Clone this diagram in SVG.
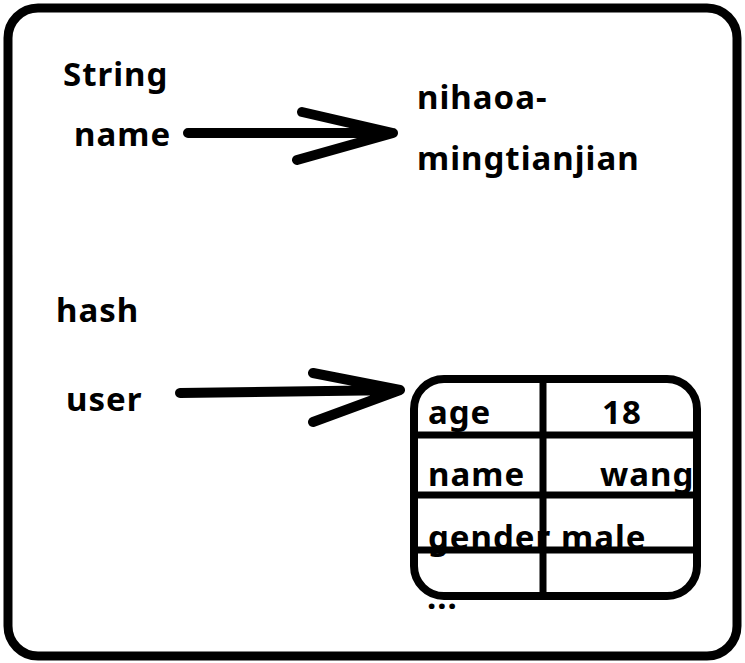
<svg xmlns="http://www.w3.org/2000/svg" width="745" height="663" viewBox="0 0 745 663">
<style>
.t{font-family:"Noto Sans","Open Sans","DejaVu Sans",sans-serif;font-weight:bold;font-size:33px;letter-spacing:1px;fill:#000}
.ln{fill:none;stroke:#000;stroke-linecap:round;stroke-linejoin:round}
</style>
<defs><clipPath id="cell"><rect x="418" y="383" width="275" height="209"/></clipPath></defs>
<rect x="0" y="0" width="745" height="663" fill="#fff"/>
<g id="frame"><rect x="8" y="8" width="729" height="648" rx="30" class="ln" stroke-width="9"/></g>
<g id="string-label"><text class="t" x="63" y="86">String</text></g>
<g id="name-key"><text class="t" x="74" y="146">name</text></g>
<g id="string-value"><text class="t" x="417" y="109">nihaoa-</text><text class="t" x="417" y="170">mingtianjian</text></g>
<g id="hash-label"><text class="t" x="56" y="322">hash</text></g>
<g id="user-key"><text class="t" x="66" y="411">user</text></g>
<g id="hash-table">
<g clip-path="url(#cell)">
<text class="t" x="428" y="424">age</text>
<text class="t" x="602" y="424">18</text>
<text class="t" x="428" y="486">name</text>
<text class="t" x="600" y="486">wang</text>
<text class="t" x="428" y="549">gender</text>
<text class="t" x="561" y="549">male</text>
</g>
<g stroke="#000" stroke-width="7" fill="none">
<line x1="414" y1="435" x2="697" y2="435"/>
<line x1="414" y1="495" x2="697" y2="495"/>
<line x1="414" y1="550" x2="697" y2="550"/>
<line x1="543" y1="379" x2="543" y2="596"/>
</g>
<rect x="414" y="379" width="283" height="217" rx="30" class="ln" stroke-width="8"/>
<text class="t" x="427" y="609">...</text>
</g>
<g id="connectors">
<path class="ln" stroke-width="10" d="M188 133 L393 133 M302 112 L393 133 L297 160"/>
<path class="ln" stroke-width="10" d="M180 393 L400 390 M313 373 L400 390 L313 422"/>
</g>
</svg>
